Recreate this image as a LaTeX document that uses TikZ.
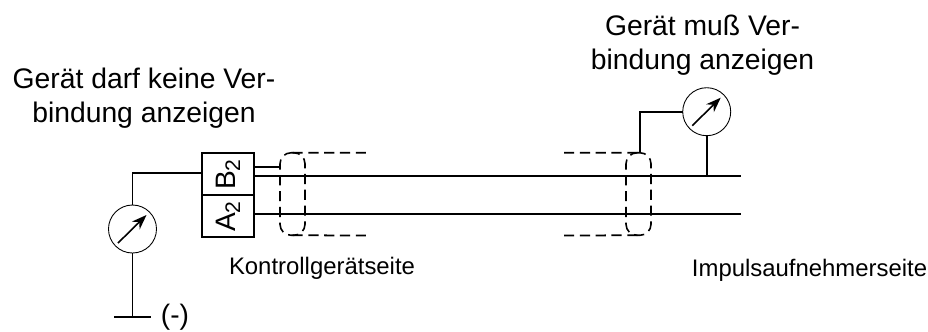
\documentclass[tikz,border=0pt]{standalone}
\usepackage{fontspec}
\setmainfont{Liberation Sans}
\usetikzlibrary{arrows.meta}
\tikzset{
  wire/.style={line width=0.5pt},
  meter/.style={draw,circle,line width=0.25pt,minimum size=0.48cm,inner sep=0pt,outer sep=0pt},
  needle/.style={line width=0.45pt,-{Stealth[length=1.5mm,width=1.1mm]}},
  pinbox/.style={draw,line width=0.5pt,minimum width=0.52cm,minimum height=0.42cm,inner sep=0pt,outer sep=0pt,font=\fontsize{8}{9}\selectfont},
  shield/.style={draw,dash pattern=on 2.9pt off 1.6pt,line width=0.45pt,rounded corners=0.11cm,minimum width=0.25cm,minimum height=0.825cm,inner sep=0pt,outer sep=0pt},
  shieldline/.style={dash pattern=on 2.9pt off 1.6pt,line width=0.5pt},
  biglabel/.style={align=center,inner sep=0pt,font=\fontsize{8.05}{9.6}\selectfont},
  smalllabel/.style={inner sep=0pt,font=\fontsize{6.8}{8}\selectfont}
}
\begin{document}
\begin{tikzpicture}
   \useasboundingbox (0,0) rectangle (9.28,3.31);
   % connector block
   \node[pinbox] (boxB) at (2.28,1.573) {\rotatebox{90}{\raisebox{-0.8pt}{B\textsubscript{2}}}};
   \node[pinbox] (boxA) at (2.28,1.153) {\rotatebox{90}{\raisebox{-0.8pt}{A\textsubscript{2}}}};
   % shields
   \node[shield] (shieldL) at (2.925,1.37) {};
   \node[shield] (shieldR) at (6.385,1.37) {};
   \coordinate (shieldLtop) at (3.68,1.783);
   \coordinate (shieldLbot) at (3.68,0.955);
   \coordinate (shieldRtop) at (5.64,1.783);
   \coordinate (shieldRbot) at (5.64,0.955);
   \draw[shieldline] (shieldL.north) -- (shieldLtop);
   \draw[shieldline] (shieldL.south) -- (shieldLbot);
   \draw[shieldline] (shieldRtop) -- (shieldR.north);
   \draw[shieldline] (shieldRbot) -- (shieldR.south);
   % wires
   \coordinate (endB) at (7.41,1.553);
   \coordinate (endA) at (7.41,1.173);
   \coordinate (stub) at (2.81,1.643);
   \draw[wire] (boxB.east |- endB) -- (endB);
   \draw[wire] (boxA.east |- endA) -- (endA);
   \draw[wire] (boxB.east |- stub) -- (stub);
   % meters
   \node[meter] (meterL) at (1.325,1.02) {};
   \node[meter] (meterR) at (7.067,2.193) {};
   \draw[needle] ([shift={(-.145,-.14)}]meterL.center) -- ([shift={(.14,.14)}]meterL.center);
   \draw[needle] ([shift={(-.145,-.14)}]meterR.center) -- ([shift={(.14,.14)}]meterR.center);
   \coordinate (tapL) at (2.02,1.583);
   \coordinate (tapR) at (6.40,1.783);
   \coordinate (gnd) at (1.325,0.143);
   \coordinate (gndL) at (1.14,0.143);
   \coordinate (gndR) at (1.51,0.143);
   \draw[wire] (tapL) -| (meterL.north);
   \draw[wire] (meterL.south) -- (gnd);
   \draw[wire] (gndL) -- (gndR);
   \draw[wire] (meterR.west) -| (tapR);
   \draw[wire] (meterR.south) -- (meterR.south |- endB);
   % texts
   \node[biglabel] (textL) at (1.44,2.325) {Gerät darf keine Ver-\\bindung anzeigen};
   \node[biglabel] (textR) at (7.025,2.86) {Gerät muß Ver-\\bindung anzeigen};
   \node[smalllabel] (sideL) at (3.22,0.625) {Kontrollgerätseite};
   \node[smalllabel] (sideR) at (8.095,0.605) {Impulsaufnehmerseite};
   \node[inner sep=0pt,font=\fontsize{8}{9}\selectfont] (minus) at (1.75,0.135) {(-)};
\end{tikzpicture}
\end{document}
